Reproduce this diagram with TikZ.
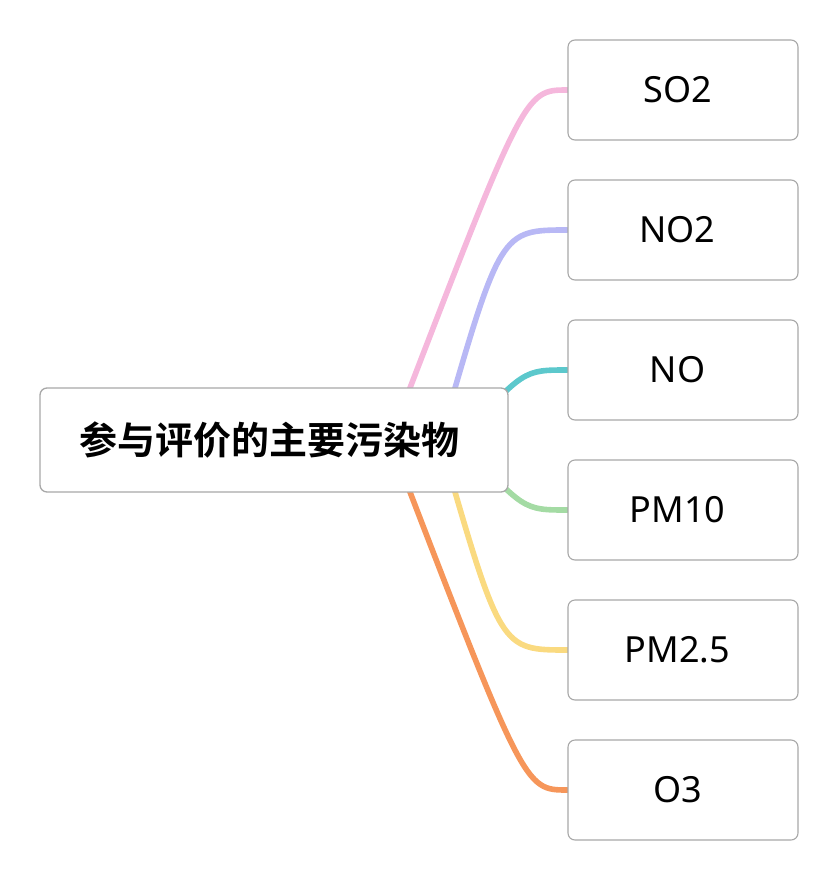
\documentclass[tikz,border=0pt]{standalone}
\usepackage{fontspec}
\setmainfont{Noto Sans}
\newfontfamily\cjk{Noto Sans CJK SC}[BoldFont={Noto Sans CJK SC Bold}]
\usetikzlibrary{backgrounds,calc}
\definecolor{cpink}{RGB}{245,183,220}
\definecolor{cpurple}{RGB}{184,184,245}
\definecolor{cteal}{RGB}{92,200,204}
\definecolor{cgreen}{RGB}{164,219,164}
\definecolor{cyellow}{RGB}{250,218,128}
\definecolor{corange}{RGB}{246,150,90}
\definecolor{cborder}{RGB}{168,168,168}
\tikzset{
  rootbox/.style={draw=cborder, line width=1.3pt, fill=white, rounded corners=7pt,
    minimum width=468pt, minimum height=104pt, inner sep=0pt,
    font=\cjk\bfseries\fontsize{38}{44}\selectfont,
    execute at end node=\hspace*{10pt}},
  leafbox/.style={draw=cborder, line width=1.1pt, fill=white, rounded corners=7pt,
    minimum width=230pt, minimum height=100pt, inner sep=0pt,
    font=\fontsize{36}{42}\selectfont,
    execute at end node=\hspace*{11pt}},
  link/.style={line width=5.6pt, line cap=round}
}
\begin{document}
\begin{tikzpicture}[x=1pt,y=-1pt]
\useasboundingbox (0,0) rectangle (838,880);
\node[rootbox] (root) at (274,440) {参与评价的主要污染物};
\node[leafbox] (c1) at (683,90) {SO2};
\node[leafbox] (c2) at (683,230) {NO2};
\node[leafbox] (c3) at (683,370) {NO};
\node[leafbox] (c4) at (683,510) {PM10};
\node[leafbox] (c5) at (683,650) {PM2.5};
\node[leafbox] (c6) at (683,790) {O3};
\coordinate (s1) at ($(root.center)+(116,0)$);
\coordinate (s2) at ($(root.center)+(166,0)$);
\coordinate (s3) at ($(root.center)+(186,0)$);
\begin{pgfonlayer}{background}
\draw[link, cpink] (s1) .. controls ($(c1.west)+(-43,0)$) .. (c1.west);
\draw[link, cpurple] (s2) .. controls ($(c2.west)+(-67,0)$) .. (c2.west);
\draw[link, cteal] (s3) .. controls ($(c3.west)+(-44,0)$) .. (c3.west);
\draw[link, cgreen] (s3) .. controls ($(c4.west)+(-44,0)$) .. (c4.west);
\draw[link, cyellow] (s2) .. controls ($(c5.west)+(-67,0)$) .. (c5.west);
\draw[link, corange] (s1) .. controls ($(c6.west)+(-43,0)$) .. (c6.west);
\end{pgfonlayer}
\end{tikzpicture}
\end{document}
